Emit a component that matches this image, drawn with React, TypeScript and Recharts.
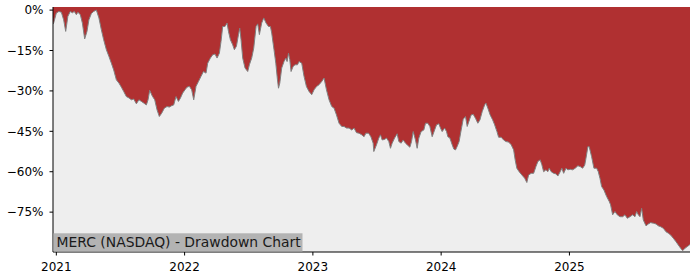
import { AreaChart, Area, XAxis, YAxis } from 'recharts';

// position along the time axis, in decimal years
const years = [
  2020.974, 2020.979, 2021.0, 2021.02, 2021.039, 2021.057, 2021.073, 2021.09, 2021.109, 2021.125,
  2021.14, 2021.156, 2021.168, 2021.187, 2021.203, 2021.221, 2021.239, 2021.254, 2021.273, 2021.291,
  2021.312, 2021.332, 2021.351, 2021.369, 2021.39, 2021.41, 2021.429, 2021.447, 2021.468, 2021.488,
  2021.507, 2021.525, 2021.546, 2021.566, 2021.585, 2021.603, 2021.624, 2021.644, 2021.663, 2021.681,
  2021.702, 2021.715, 2021.728, 2021.749, 2021.767, 2021.785, 2021.803, 2021.821, 2021.842, 2021.863,
  2021.881, 2021.899, 2021.915, 2021.933, 2021.952, 2021.967, 2021.985, 2022.003, 2022.019, 2022.037,
  2022.055, 2022.071, 2022.089, 2022.108, 2022.128, 2022.147, 2022.167, 2022.18, 2022.201, 2022.219,
  2022.237, 2022.253, 2022.271, 2022.284, 2022.297, 2022.315, 2022.331, 2022.342, 2022.357, 2022.375,
  2022.388, 2022.404, 2022.42, 2022.43, 2022.44, 2022.453, 2022.471, 2022.492, 2022.505, 2022.523,
  2022.539, 2022.557, 2022.57, 2022.583, 2022.601, 2022.617, 2022.635, 2022.654, 2022.669, 2022.679,
  2022.697, 2022.711, 2022.724, 2022.732, 2022.742, 2022.757, 2022.775, 2022.789, 2022.799, 2022.81,
  2022.82, 2022.83, 2022.846, 2022.861, 2022.88, 2022.892, 2022.913, 2022.931, 2022.95, 2022.97,
  2022.991, 2023.009, 2023.028, 2023.048, 2023.069, 2023.087, 2023.106, 2023.126, 2023.147, 2023.165,
  2023.184, 2023.204, 2023.225, 2023.243, 2023.262, 2023.282, 2023.303, 2023.321, 2023.34, 2023.36,
  2023.381, 2023.399, 2023.413, 2023.434, 2023.452, 2023.47, 2023.475, 2023.496, 2023.514, 2023.527,
  2023.54, 2023.559, 2023.574, 2023.592, 2023.605, 2023.618, 2023.637, 2023.657, 2023.67, 2023.688,
  2023.704, 2023.722, 2023.735, 2023.756, 2023.769, 2023.782, 2023.8, 2023.813, 2023.826, 2023.844,
  2023.865, 2023.878, 2023.896, 2023.912, 2023.93, 2023.949, 2023.964, 2023.982, 2023.995, 2024.008,
  2024.027, 2024.042, 2024.052, 2024.068, 2024.086, 2024.099, 2024.112, 2024.125, 2024.14, 2024.156,
  2024.172, 2024.19, 2024.203, 2024.216, 2024.234, 2024.25, 2024.268, 2024.286, 2024.302, 2024.32,
  2024.339, 2024.349, 2024.364, 2024.382, 2024.401, 2024.417, 2024.435, 2024.448, 2024.468, 2024.487,
  2024.505, 2024.526, 2024.546, 2024.565, 2024.577, 2024.59, 2024.608, 2024.629, 2024.651, 2024.668,
  2024.682, 2024.702, 2024.721, 2024.739, 2024.754, 2024.772, 2024.785, 2024.799, 2024.817, 2024.832,
  2024.842, 2024.858, 2024.877, 2024.895, 2024.91, 2024.928, 2024.941, 2024.955, 2024.973, 2024.988,
  2025.006, 2025.025, 2025.045, 2025.066, 2025.084, 2025.103, 2025.119, 2025.129, 2025.144, 2025.154,
  2025.173, 2025.191, 2025.212, 2025.225, 2025.238, 2025.251, 2025.269, 2025.29, 2025.311, 2025.321,
  2025.337, 2025.355, 2025.373, 2025.394, 2025.415, 2025.433, 2025.451, 2025.472, 2025.493, 2025.511,
  2025.524, 2025.537, 2025.55, 2025.563, 2025.576, 2025.597, 2025.615, 2025.633, 2025.654, 2025.675,
  2025.693, 2025.711, 2025.732, 2025.753, 2025.771, 2025.789, 2025.81, 2025.831, 2025.849, 2025.867,
  2025.883, 2025.901, 2025.919, 2025.935, 2025.94,
];

// drawdown from running peak, %
const drawdown = [
  -5.2, -4.8, -1.1, -0.5, -0.8, -3.6, -7.9, -2.3, -0.5, -1.0,
  -0.5, -1.7, -0.8, -1.7, -4.8, -10.7, -7.9, -3.6, -1.3, -0.5,
  0, -2.9, -7.3, -11.0, -14.7, -17.2, -19.7, -22.2, -25.9, -27.1,
  -28.6, -30.2, -32.1, -32.6, -33.3, -33.0, -34.8, -33.3, -33.9, -34.5,
  -35.2, -33.3, -29.8, -32.0, -33.3, -37.0, -39.5, -38.3, -36.4, -35.8,
  -36.0, -35.5, -35.2, -32.1, -33.9, -32.7, -30.8, -29.6, -28.6, -28.3,
  -29.6, -33.3, -28.3, -26.5, -24.6, -22.8, -23.4, -19.7, -17.8, -16.6,
  -16.3, -17.8, -16.0, -11.6, -6.1, -6.1, -4.8, -7.9, -11.0, -12.9,
  -14.7, -13.4, -9.1, -6.7, -11.0, -17.8, -21.5, -22.8, -20.3, -17.8,
  -14.1, -6.1, -5.1, -9.1, -4.8, -2.9, -4.8, -6.1, -6.1, -8.5,
  -14.7, -19.7, -25.9, -29.0, -27.1, -21.5, -19.1, -17.8, -19.1, -16.0,
  -18.4, -22.8, -20.9, -20.3, -20.3, -19.1, -19.7, -24.6, -28.4, -30.2,
  -31.4, -29.6, -28.4, -27.7, -26.5, -25.2, -29.6, -33.3, -35.8, -36.4,
  -38.9, -42.0, -43.2, -43.2, -43.8, -43.8, -44.5, -43.8, -45.5, -45.7,
  -46.3, -47.0, -45.7, -45.7, -47.0, -49.4, -52.5, -50.0, -47.5, -46.3,
  -48.2, -48.0, -47.5, -48.8, -51.3, -49.4, -47.5, -45.9, -48.8, -49.4,
  -48.2, -49.4, -50.0, -50.9, -48.8, -45.1, -48.2, -51.3, -47.5, -45.1,
  -44.5, -42.0, -42.0, -43.2, -47.0, -44.5, -42.6, -42.2, -43.8, -45.1,
  -43.8, -45.1, -47.0, -47.5, -50.0, -51.6, -51.9, -50.6, -48.8, -44.5,
  -40.5, -39.5, -43.2, -41.4, -38.9, -38.7, -40.2, -42.0, -40.8, -37.7,
  -35.2, -34.5, -36.4, -38.9, -40.7, -42.6, -45.1, -47.2, -47.2, -48.2,
  -48.8, -49.0, -50.0, -51.9, -55.6, -58.7, -60.0, -61.2, -62.4, -64.0,
  -61.2, -60.6, -60.6, -58.1, -56.2, -55.6, -57.4, -60.0, -59.3, -60.0,
  -58.7, -60.0, -60.6, -60.8, -61.6, -60.0, -58.7, -60.6, -58.7, -59.3,
  -59.1, -59.3, -58.7, -57.8, -58.1, -58.7, -57.6, -55.0, -50.7, -50.7,
  -54.4, -58.7, -58.7, -60.0, -62.4, -65.5, -66.8, -69.2, -71.1, -72.3,
  -76.0, -74.8, -76.0, -76.7, -76.7, -76.0, -77.3, -76.7, -76.0, -76.7,
  -74.8, -76.0, -76.7, -73.6, -77.9, -80.1, -79.4, -78.9, -79.1, -79.4,
  -80.1, -80.4, -81.0, -82.3, -82.8, -83.5, -84.7, -86.0, -87.2, -88.4,
  -89.3, -88.4, -87.8, -87.2, -87.0,
];

const yearTicks = [2021, 2022, 2023, 2024, 2025];
const pctTicks = [0, -15, -30, -45, -60, -75];
const title = 'MERC (NASDAQ) - Drawdown Chart';

const data = years.map((t, i) => ({ t, dd: drawdown[i] }));

const xDomain = [2020.974, 2025.94];
const yDomain = [-89.8, 1.15];

const fmtPct = (v: number) => (v === 0 ? '0%' : '\u2212' + Math.abs(v) + '%');

const tickStyle = { fill: '#000', fontSize: 12, fontFamily: 'DejaVu Sans' };

export default function App() {
  return (
    <div style={{ position: 'relative', width: 700, height: 280, background: '#fff' }}>
      <style>{'body{margin:0}'}</style>
      <AreaChart width={700} height={280} data={data} margin={{ top: 7, right: 10, left: 0, bottom: 0 }}>
        <XAxis
          type="number"
          dataKey="t"
          domain={xDomain}
          ticks={yearTicks}
          allowDataOverflow
          height={28}
          tick={tickStyle}
          tickSize={3.5}
          tickMargin={7}
          axisLine={{ stroke: '#000' }}
          tickLine={{ stroke: '#000' }}
        />
        <XAxis
          xAxisId="top"
          orientation="top"
          type="number"
          dataKey="t"
          domain={xDomain}
          allowDataOverflow
          height={0}
          tick={false}
          tickLine={false}
          axisLine={{ stroke: '#000' }}
        />
        <YAxis
          type="number"
          domain={yDomain}
          ticks={pctTicks}
          allowDataOverflow
          width={53}
          tick={tickStyle}
          tickFormatter={fmtPct}
          tickSize={3.5}
          tickMargin={6}
          axisLine={{ stroke: '#000' }}
          tickLine={{ stroke: '#000' }}
        />
        <YAxis
          yAxisId="right"
          orientation="right"
          type="number"
          domain={yDomain}
          allowDataOverflow
          width={0}
          tick={false}
          tickLine={false}
          axisLine={{ stroke: '#000' }}
        />
        <Area
          type="linear"
          dataKey="dd"
          baseValue="dataMin"
          fill="#eeeeee"
          fillOpacity={1}
          stroke="none"
          isAnimationActive={false}
          dot={false}
          activeDot={false}
        />
        <Area
          type="linear"
          dataKey="dd"
          baseValue="dataMax"
          fill="#b03031"
          fillOpacity={1}
          stroke="#808080"
          strokeWidth={1}
          isAnimationActive={false}
          dot={false}
          activeDot={false}
        />
      </AreaChart>
      <svg width={700} height={280} style={{ position: 'absolute', left: 0, top: 0, pointerEvents: 'none' }}>
        <rect x={53.5} y={233.3} width={249} height={18.2} fill="#b3b3b3" />
        <text x={56.5} y={247.3} fontSize={13.9} fontFamily="DejaVu Sans" fill="#1a1a1a">
          {title}
        </text>
      </svg>
    </div>
  );
}
